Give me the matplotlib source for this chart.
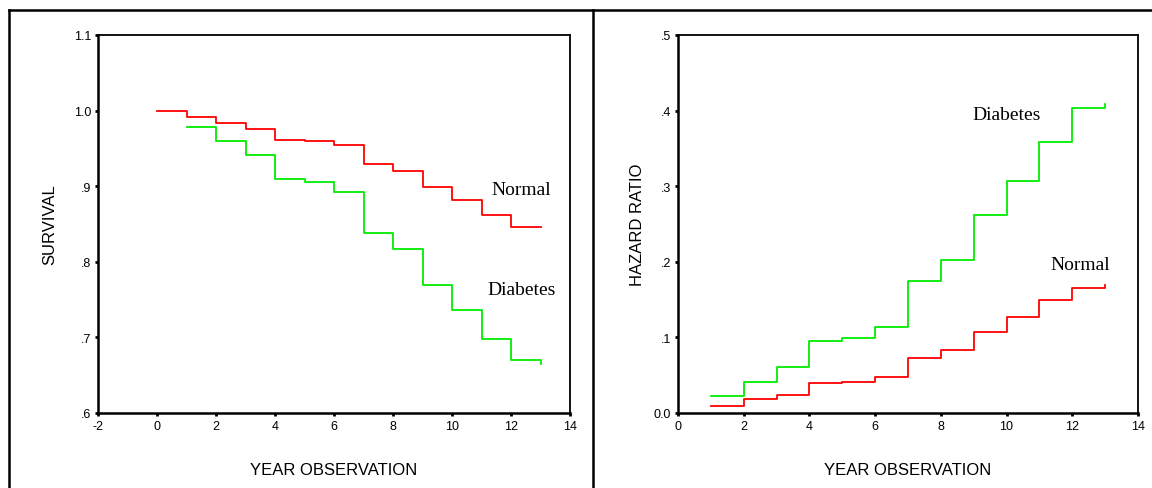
import matplotlib
matplotlib.use("Agg")
import matplotlib.pyplot as plt
from matplotlib.lines import Line2D

# Data
years = [0, 1, 2, 3, 4, 5, 6, 7, 8, 9, 10, 11, 12, 13]
surv_normal = [1.000, 0.991, 0.983, 0.976, 0.9615, 0.960, 0.9545, 0.930, 0.920,
               0.8985, 0.8817, 0.862, 0.8465, 0.8465]
years_dm = [1, 2, 3, 4, 5, 6, 7, 8, 9, 10, 11, 12, 13]
surv_diabetes = [0.978, 0.960, 0.941, 0.910, 0.905, 0.892, 0.8385, 0.817,
                 0.769, 0.736, 0.6975, 0.670, 0.665]

haz_years = [1, 2, 3, 4, 5, 6, 7, 8, 9, 10, 11, 12, 13]
haz_diabetes = [0.0229, 0.0414, 0.0612, 0.0957, 0.0988, 0.1138, 0.175, 0.202,
                0.2615, 0.3065, 0.359, 0.403, 0.409]
haz_normal = [0.0097, 0.018, 0.024, 0.0393, 0.0414, 0.048, 0.0728, 0.083,
              0.1075, 0.1274, 0.149, 0.1657, 0.169]

surv_yticks = [0.6, 0.7, 0.8, 0.9, 1.0, 1.1]
surv_ylabels = [".6", ".7", ".8", ".9", "1.0", "1.1"]
surv_xticks = [-2, 0, 2, 4, 6, 8, 10, 12, 14]
haz_yticks = [0.0, 0.1, 0.2, 0.3, 0.4, 0.5]
haz_ylabels = ["0.0", ".1", ".2", ".3", ".4", ".5"]
haz_xticks = [0, 2, 4, 6, 8, 10, 12, 14]

RED = "#ff0000"
GREEN = "#00ee00"
SANS = "Liberation Sans"
SERIF = "Liberation Serif"

fig = plt.figure(figsize=(11.52, 4.89), dpi=100)
ax1 = fig.add_axes([0.0851, 0.1534, 0.4097, 0.773])
ax2 = fig.add_axes([0.5885, 0.1534, 0.3993, 0.773])

# Left panel: survival
ax1.step(years, surv_normal, where="post", color=RED, linewidth=1.3)
ax1.step(years_dm, surv_diabetes, where="post", color=GREEN, linewidth=1.3)
ax1.set_xlim(-2, 14)
ax1.set_ylim(0.6, 1.1)
ax1.set_xticks(surv_xticks)
ax1.set_xticklabels([str(t) for t in surv_xticks])
ax1.set_yticks(surv_yticks)
ax1.set_yticklabels(surv_ylabels)
ax1.set_ylabel("SURVIVAL", fontsize=12, family=SANS, labelpad=12)
ax1.set_xlabel("YEAR OBSERVATION", fontsize=12, family=SANS, labelpad=22)
ax1.text(12.35, 0.896, "Normal", family=SERIF, fontsize=14, ha="center", va="center")
ax1.text(12.35, 0.764, "Diabetes", family=SERIF, fontsize=14, ha="center", va="center")

# Right panel: hazard
ax2.step(haz_years, haz_diabetes, where="post", color=GREEN, linewidth=1.3)
ax2.step(haz_years, haz_normal, where="post", color=RED, linewidth=1.3)
ax2.set_xlim(0, 14)
ax2.set_ylim(0, 0.5)
ax2.set_xticks(haz_xticks)
ax2.set_xticklabels([str(t) for t in haz_xticks])
ax2.set_yticks(haz_yticks)
ax2.set_yticklabels(haz_ylabels)
ax2.set_ylabel("HAZARD RATIO", fontsize=12, family=SANS, labelpad=6)
ax2.set_xlabel("YEAR OBSERVATION", fontsize=12, family=SANS, labelpad=22)
ax2.text(10.0, 0.395, "Diabetes", family=SERIF, fontsize=14, ha="center", va="center")
ax2.text(12.25, 0.197, "Normal", family=SERIF, fontsize=14, ha="center", va="center")

for ax in (ax1, ax2):
    for side in ("left", "bottom"):
        ax.spines[side].set_linewidth(1.8)
    for side in ("top", "right"):
        ax.spines[side].set_linewidth(1.3)
    ax.tick_params(direction="out", length=2, width=2, labelsize=9, pad=3)
    for lbl in ax.get_xticklabels() + ax.get_yticklabels():
        lbl.set_family(SANS)

# Outer frame lines
fig.add_artist(Line2D([9 / 1152, 1.0], [1 - 11 / 489, 1 - 11 / 489],
                      color="black", linewidth=1.8, transform=fig.transFigure))
fig.add_artist(Line2D([9 / 1152, 9 / 1152], [0, 1 - 11 / 489],
                      color="black", linewidth=1.8, transform=fig.transFigure))
fig.add_artist(Line2D([593 / 1152, 593 / 1152], [0, 1 - 11 / 489],
                      color="black", linewidth=1.8, transform=fig.transFigure))

fig.savefig("out.png", dpi=100)
